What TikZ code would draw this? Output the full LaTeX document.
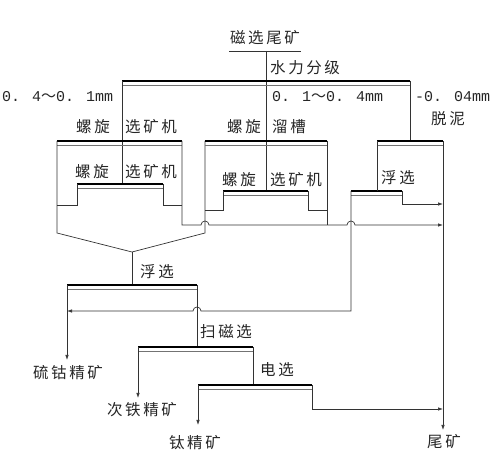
\documentclass[tikz,border=0pt]{standalone}
\usepackage{fontspec}
\newfontfamily\cjk{Noto Sans CJK SC}
\newfontfamily\monof{Liberation Mono}
\usetikzlibrary{arrows.meta}
\newcommand\flowbar[3]{%
  \draw[thickbar] (#1,#3)--(#2,#3);
  \draw[thinbar] (#1,#3+4)--(#2,#3+4);}
\begin{document}
\begin{tikzpicture}[x=1pt,y=-1pt,
  ln/.style={draw=black!80,line width=0.7pt},
  thickbar/.style={line width=2pt,black},
  thinbar/.style={line width=0.5pt,black!55},
  arr/.style={-{Latex[length=5pt,width=3.5pt]}},
  lbl/.style={font=\cjk\fontsize{15.5}{16}\selectfont,text=black!85,inner sep=0pt},
  num/.style={font=\monof\fontsize{15}{16}\selectfont,text=black!85,inner sep=0pt},
  hop/.style={}]
\useasboundingbox (0,0) rectangle (496,465);
% ---- labels
\node[lbl] (feed) at (265,38) {磁\,选\,尾\,矿};
\node[lbl,anchor=west] (hydro) at (270,68) {水\,力\,分\,级};
\node[num,anchor=west] (s1) at (2,97) {0. 4{\cjk ～}0. 1mm};
\node[num,anchor=west] (s2) at (272,97) {0. 1{\cjk ～}0. 4mm};
\node[num,anchor=west] (s3) at (415,97) {-0. 04mm};
\node[lbl] (desl) at (448,119) {脱\,泥};
\node[lbl,anchor=west] (sp1a) at (76,127) {螺\,旋};
\node[lbl,anchor=west] (sp1b) at (125,127) {选\,矿\,机};
\node[lbl,anchor=west] (sp2a) at (227,127) {螺\,旋};
\node[lbl,anchor=west] (sp2b) at (272,127) {溜\,槽};
\node[lbl,anchor=west] (sp3a) at (75,172) {螺\,旋};
\node[lbl,anchor=west] (sp3b) at (125,172) {选\,矿\,机};
\node[lbl,anchor=west] (sp4a) at (222,180) {螺\,旋};
\node[lbl,anchor=west] (sp4b) at (270,180) {选\,矿\,机};
\node[lbl,anchor=west] (fl1) at (381,178) {浮\,选};
\node[lbl,anchor=west] (fl2) at (140,272) {浮\,选};
\node[lbl,anchor=west] (scav) at (200,332) {扫\,磁\,选};
\node[lbl,anchor=west] (elec) at (260,370) {电\,选};
\node[lbl] (scc) at (68,373) {硫\,钴\,精\,矿};
\node[lbl] (fec) at (142,410) {次\,铁\,精\,矿};
\node[lbl] (tic) at (195,443) {钛\,精\,矿};
\node[lbl] (tail) at (444,442) {尾\,矿};
% ---- key coordinates
\coordinate (ulL) at (229,51); \coordinate (ulR) at (301,51);
\coordinate (merge) at (132,252);
\coordinate (tailR) at (443,430);
% ---- feed and hydraulic classification
\draw[ln] (ulL)--(ulR);
\draw[ln] (266,51)--(266,191);
\flowbar{122}{410}{81}
\draw[ln] (122,81)--(122,184);
\draw[ln] (410,81)--(410,141);
% ---- box 1 spiral concentrator
\flowbar{57}{182}{141}
\flowbar{77}{163}{184}
\draw[ln] (77,184)--(77,205)--(57,205);
\draw[ln] (163,184)--(163,205)--(182,205);
\draw[ln] (57,141)--(57,233)--(merge)--(205,233)--(205,141);
\draw[ln,arr] (182,141)--(182,225)--(201,225)
   arc[start angle=180,end angle=360,radius=4]--(347,225)
   arc[start angle=180,end angle=360,radius=4]--(443,225);
% ---- box 2 spiral chute
\flowbar{205}{327}{141}
\flowbar{223}{308}{191}
\draw[ln] (223,191)--(223,210)--(205,210);
\draw[ln] (308,191)--(308,210)--(327,210);
\draw[ln] (327,141)--(327,225);
% ---- box 3 flotation
\flowbar{377}{443}{141}
\flowbar{351}{402}{191}
\draw[ln] (377,141)--(377,191);
\draw[ln,arr] (402,191)--(402,204)--(443,204);
\draw[ln,arr] (443,141)--(tailR);
\draw[ln,arr] (351,191)--(351,311)--(201,311)
   arc[start angle=360,end angle=180,radius=4]--(67,311);
% ---- flotation 2
\draw[ln] (merge)--(132,285);
\flowbar{67}{197}{285}
\draw[ln,arr] (67,285)--(67,360);
\draw[ln] (197,285)--(197,347);
% ---- scavenging magnetic
\flowbar{138}{253}{347}
\draw[ln,arr] (138,347)--(138,398);
\draw[ln] (253,347)--(253,385);
% ---- electrostatic
\flowbar{198}{312}{385}
\draw[ln,arr] (198,385)--(198,425);
\draw[ln,arr] (312,385)--(312,409)--(443,409);
\end{tikzpicture}
\end{document}
